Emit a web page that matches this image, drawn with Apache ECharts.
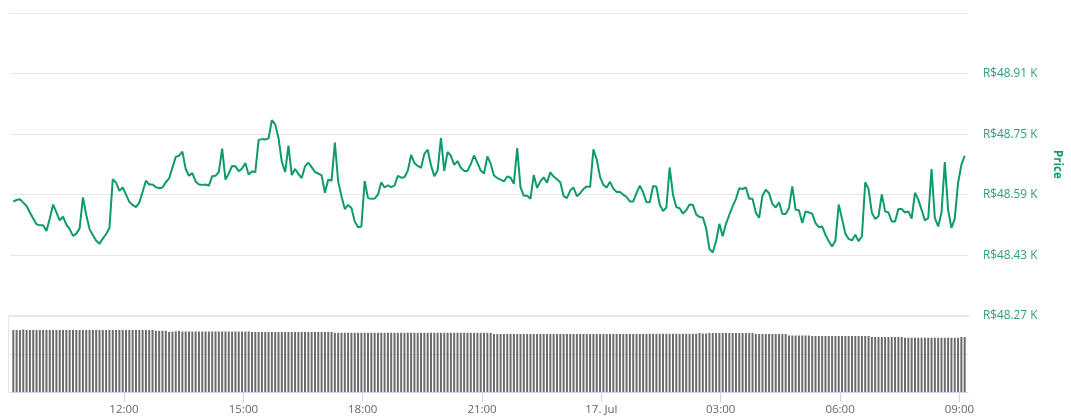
<!DOCTYPE html>
<html>
<head>
<meta charset="utf-8">
<style>
  html, body { margin: 0; padding: 0; background: #fff; }
  #main { width: 1071px; height: 419px; }
</style>
<script src="https://cdn.jsdelivr.net/npm/echarts@6/dist/echarts.min.js"></script>
</head>
<body>
<div id="main"></div>
<script>
// price in R$, one reading every 5 minutes
var prices = [
  48572,48576,48578,48569,48560,48543,48527,48512,48509,48509,48494,48527,48564,48543,48522,48532,48511,48499,48481,48487,
  48501,48583,48537,48499,48483,48468,48460,48474,48486,48502,48631,48622,48600,48609,48590,48571,48563,48557,48569,48597,
  48627,48617,48617,48610,48607,48609,48623,48633,48662,48690,48693,48704,48658,48640,48647,48625,48617,48616,48617,48614,
  48639,48640,48650,48712,48630,48646,48666,48665,48652,48659,48674,48643,48652,48649,48735,48737,48736,48739,48787,48776,
  48740,48677,48650,48720,48642,48658,48645,48634,48665,48675,48663,48650,48646,48641,48595,48630,48627,48728,48625,48586,
  48552,48563,48555,48519,48504,48506,48626,48581,48579,48580,48590,48623,48609,48615,48610,48614,48640,48635,48636,48653,
  48695,48674,48666,48661,48698,48709,48668,48639,48654,48740,48653,48703,48693,48669,48679,48661,48653,48653,48671,48694,
  48674,48654,48646,48691,48672,48641,48634,48630,48625,48638,48635,48619,48713,48610,48587,48587,48579,48642,48608,48625,
  48636,48622,48649,48638,48631,48623,48587,48581,48601,48609,48586,48594,48605,48612,48610,48710,48683,48637,48616,48609,
  48624,48606,48597,48597,48590,48584,48572,48572,48594,48614,48596,48570,48570,48613,48611,48564,48547,48556,48662,48590,
  48557,48554,48540,48549,48564,48563,48538,48531,48530,48502,48446,48437,48467,48513,48480,48513,48537,48559,48579,48607,
  48605,48609,48579,48579,48542,48529,48588,48603,48594,48565,48556,48570,48539,48539,48555,48612,48550,48549,48515,48546,
  48543,48540,48515,48504,48506,48484,48467,48453,48468,48564,48526,48487,48473,48469,48484,48467,48480,48623,48605,48542,
  48526,48533,48591,48546,48543,48519,48519,48552,48552,48543,48546,48527,48595,48577,48550,48522,48528,48658,48528,48506,
  48542,48676,48550,48502,48526,48621,48669,48693
];
// volume (relative units)
var volumes = [
  62,62,62,62.5,62,62,62,62,62,62,62,62,62,62,62,62,62,62,62,62,
  62,62,62,62,62,62,62,62,62,62,62,62,62,62,62,62,62,62,62,62,
  62,62,62,61.2,61.2,61.2,61.2,60,60.3,60.6,61,60.4,60.5,60.5,60.5,60.5,60.5,60.5,60.5,60.5,
  60.5,60.5,60.5,60.5,60.5,60.5,60.5,60.5,60.5,60.5,60.5,60.5,60,60,60,60,60,60,60,60,
  60,60,60,60,60,60,60,60,60,60,60,60,60,60,60,60,60,59.2,59.2,59.2,
  59.2,59.2,59.2,59.2,59.2,59.2,59.2,59.2,59.2,59.2,59.2,59.2,59.2,59.2,59.2,59.2,59.2,59.2,59.2,59.2,
  59.2,59.2,59.2,59.2,59.2,59.2,59.2,59.2,59.2,59.2,59.2,59.2,59.2,59.2,59.2,59.2,59.2,59.2,59.2,59.2,
  59.2,59.2,59.2,59.2,59.2,58,58,58,58,58,58,58,58,58,58,58,58,58,58,58,
  58,58,58,58,58,58,58,58,58,58,58,58,58,58,58,58,58,58,58,58,
  58,58,58,58,58,58,58,58,58,58,58,58,58.2,58.2,58.2,58.2,58.2,58.2,58.2,58.2,
  58.2,58.2,58.2,58.2,58.2,58.2,58.2,59,58.5,58.5,59,59,59,59,59,59,59,59,59,59,
  59,59,59,59,58,58,58,58,58,58,58,58,58,58,56.5,56.5,56.5,56.5,56.5,56.5,
  56.5,56,56,56,56,56,56,56,56,56,56,56,56,56,56,56,56,56,56,55,
  55,55,55,55,55,55,55,55,55,54.3,54.3,54.3,54.3,54.3,54.3,54.3,54.3,54.3,54.3,54.3,
  54.2,54.2,54.2,54.2,54.2,54.2,55,55
];
var priceTicks = [48270, 48430, 48590, 48750, 48910];
var priceGrid = [48270, 48430, 48590, 48750, 48910, 49070];
var tickTimes = [
  new Date(2019, 6, 16, 12, 0), new Date(2019, 6, 16, 15, 0), new Date(2019, 6, 16, 18, 0),
  new Date(2019, 6, 16, 21, 0), new Date(2019, 6, 17, 0, 0), new Date(2019, 6, 17, 3, 0),
  new Date(2019, 6, 17, 6, 0), new Date(2019, 6, 17, 9, 0)
].map(function (d) { return d.getTime(); });
var tickLabels = ['12:00', '15:00', '18:00', '21:00', '17. Jul', '03:00', '06:00', '09:00'];

var step = 5 * 60 * 1000;
var start = new Date(2019, 6, 16, 9, 13).getTime();
var priceData = prices.map(function (v, i) { return [start + i * step, v]; });
var volumeData = volumes.map(function (v, i) { return [start + i * step, v]; });
var xMin = start - step;
var xMax = start + 288 * step;

var green = '#0e9a6e';
var myChart = echarts.init(document.getElementById('main'));
var option = {
  animation: false,
  textStyle: { fontFamily: '"Open Sans", sans-serif' },
  grid: [
    { left: 10, right: 103, top: 13.2, height: 302.5 },
    { left: 10, right: 103, top: 316, height: 76 }
  ],
  xAxis: [
    {
      type: 'value', gridIndex: 0, min: xMin, max: xMax, splitLine: { show: false },
      axisLine: { show: true, lineStyle: { color: '#e6e6e6', width: 2 } },
      axisTick: { show: false }, axisLabel: { show: false }
    },
    {
      type: 'value', gridIndex: 1, min: xMin, max: xMax,
      axisLine: { lineStyle: { color: '#ccd6eb' } },
      axisTick: { show: true, length: 10, customValues: tickTimes, lineStyle: { color: '#ccd6eb' } },
      axisLabel: {
        customValues: tickTimes, color: '#666', fontSize: 11.5, margin: 12, hideOverlap: false,
        formatter: function (v) { return tickLabels[tickTimes.indexOf(+v)]; }
      },
      splitLine: { show: false }
    }
  ],
  yAxis: [
    {
      type: 'value', gridIndex: 0, position: 'right', min: 48270, max: 49070,
      name: 'Price', nameLocation: 'middle', nameRotate: -90, nameGap: 83,
      nameTextStyle: { color: green, fontWeight: 'bold', fontSize: 11.5 },
      axisLine: { show: false },
      axisTick: { show: false, customValues: priceGrid },
      splitLine: { show: true, lineStyle: { color: '#e6e6e6', width: 1 } },
      axisLabel: {
        customValues: priceTicks, color: '#2f9a7d', fontSize: 11.8, margin: 15,
        formatter: function (v) { return 'R$' + (v / 1000).toFixed(2) + ' K'; }
      }
    },
    {
      type: 'value', gridIndex: 1, position: 'left', min: 0, max: 76, offset: 2,
      axisLine: { show: true, lineStyle: { color: '#e0e4ea' } },
      axisTick: { show: false, customValues: [38, 76] },
      axisLabel: { show: false },
      splitLine: { show: true, lineStyle: { color: '#e6e6e6', width: 1 } }
    }
  ],
  series: [
    {
      type: 'line', xAxisIndex: 0, yAxisIndex: 0, data: priceData,
      showSymbol: false, lineStyle: { color: green, width: 2 }, itemStyle: { color: green }
    },
    {
      type: 'bar', xAxisIndex: 1, yAxisIndex: 1, data: volumeData,
      barWidth: 2, itemStyle: { color: '#6b6b6b' }
    }
  ]
};
myChart.setOption(option);
</script>
</body>
</html>
